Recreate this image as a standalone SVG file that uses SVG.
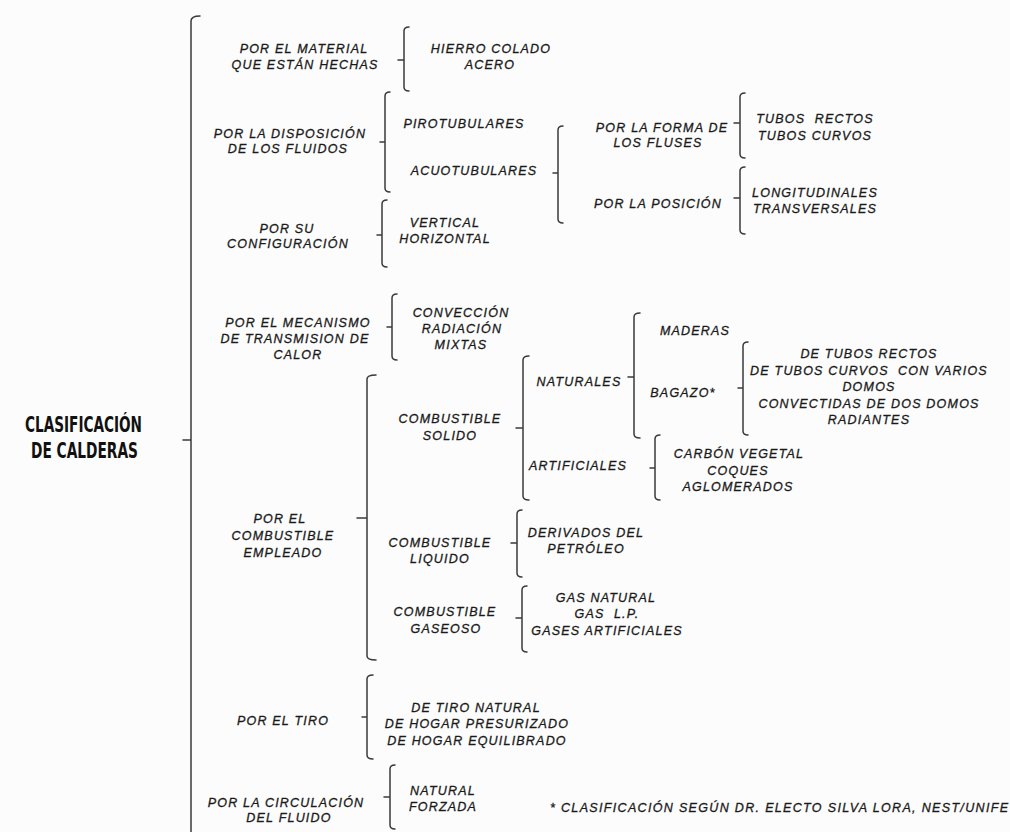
<svg xmlns="http://www.w3.org/2000/svg" width="1010" height="832" viewBox="0 0 1010 832">
<style>
.t{font-family:"Liberation Sans",Arial,sans-serif;font-style:italic;font-size:12.5px;letter-spacing:1.2px;fill:#1a1a1a;stroke:#1a1a1a;stroke-width:0.3px;text-anchor:middle;white-space:pre}
.title{font-family:"Liberation Sans Narrow","DejaVu Sans Condensed","Liberation Sans",sans-serif;font-weight:bold;font-size:21.5px;font-stretch:condensed;fill:#111}
.b{fill:none;stroke:#3a3a3a;stroke-width:1.5;stroke-linecap:round}
</style>
<rect width="1010" height="832" fill="#fcfcfc"/>
<g id="connectors">
<path class="b" d="M200,16 Q191,16 191,21 V840 M191,440 H183"/>
<path class="b" d="M409,27 Q404,27 404,31 V87 Q404,91 409,91 M404,60 H398"/>
<path class="b" d="M390,92 Q385,92 385,96 V188 Q385,192 390,192 M385,142 H380"/>
<path class="b" d="M387,200 Q382,200 382,204 V263 Q382,267 387,267 M382,235 H377"/>
<path class="b" d="M563,126 Q558,126 558,130 V219 Q558,223 563,223 M558,173 H553"/>
<path class="b" d="M745,93 Q740,93 740,97 V154 Q740,158 745,158 M740,123 H734"/>
<path class="b" d="M745,167 Q740,167 740,171 V230 Q740,234 745,234 M740,198 H734"/>
<path class="b" d="M397,294 Q392,294 392,298 V356 Q392,360 397,360 M392,327 H387"/>
<path class="b" d="M376,375 Q367,375 367,379 V656 Q367,660 376,660 M367,518 H357"/>
<path class="b" d="M529,356 Q523,356 523,360 V496 Q523,500 529,500 M523,428 H516"/>
<path class="b" d="M640,313 Q634,313 634,317 V434 Q634,438 640,438 M634,377 H628"/>
<path class="b" d="M748,342 Q743,342 743,346 V431 Q743,435 748,435 M743,388 H738"/>
<path class="b" d="M660,435 Q655,435 655,439 V496 Q655,500 660,500 M655,468 H650"/>
<path class="b" d="M522,510 Q517,510 517,514 V573 Q517,577 522,577 M517,543 H511"/>
<path class="b" d="M527,586 Q522,586 522,590 V648 Q522,652 527,652 M522,618 H516"/>
<path class="b" d="M373,675 Q367,675 367,679 V755 Q367,759 373,759 M367,717 H362"/>
<path class="b" d="M395,765 Q390,765 390,769 V825 Q390,829 395,829 M390,797 H384"/>
</g>
<g id="root">
<text class="title" x="25" y="432" textLength="117" lengthAdjust="spacingAndGlyphs">CLASIFICACIÓN</text>
<text class="title" x="31" y="458" textLength="107" lengthAdjust="spacingAndGlyphs">DE CALDERAS</text>
</g>
<g id="material"><text class="t"><tspan x="304" y="53">POR EL MATERIAL</tspan><tspan x="305" y="69">QUE ESTÁN HECHAS</tspan></text></g>
<g id="material-items"><text class="t"><tspan x="491" y="53">HIERRO COLADO</tspan><tspan x="490" y="69">ACERO</tspan></text></g>
<g id="disposicion"><text class="t"><tspan x="290" y="138">POR LA DISPOSICIÓN</tspan><tspan x="288" y="153">DE LOS FLUIDOS</tspan></text></g>
<g id="pirotubulares"><text class="t" x="464" y="128">PIROTUBULARES</text></g>
<g id="acuotubulares"><text class="t" x="474" y="175">ACUOTUBULARES</text></g>
<g id="configuracion"><text class="t"><tspan x="287" y="233">POR SU</tspan><tspan x="288" y="248">CONFIGURACIÓN</tspan></text></g>
<g id="config-items"><text class="t"><tspan x="445" y="227">VERTICAL</tspan><tspan x="445" y="243">HORIZONTAL</tspan></text></g>
<g id="forma"><text class="t"><tspan x="662" y="132">POR LA FORMA DE</tspan><tspan x="658" y="147">LOS FLUSES</tspan></text></g>
<g id="posicion"><text class="t" x="658" y="208">POR LA POSICIÓN</text></g>
<g id="forma-items"><text class="t"><tspan x="815" y="123">TUBOS  RECTOS</tspan><tspan x="815" y="140">TUBOS CURVOS</tspan></text></g>
<g id="posicion-items"><text class="t"><tspan x="815" y="197">LONGITUDINALES</tspan><tspan x="815" y="213">TRANSVERSALES</tspan></text></g>
<g id="mecanismo"><text class="t"><tspan x="298" y="327">POR EL MECANISMO</tspan><tspan x="295" y="343">DE TRANSMISION DE</tspan><tspan x="298" y="359">CALOR</tspan></text></g>
<g id="mecanismo-items"><text class="t"><tspan x="461" y="317">CONVECCIÓN</tspan><tspan x="462" y="333">RADIACIÓN</tspan><tspan x="461" y="349">MIXTAS</tspan></text></g>
<g id="combustible"><text class="t"><tspan x="280" y="523">POR EL</tspan><tspan x="283" y="540">COMBUSTIBLE</tspan><tspan x="283" y="557">EMPLEADO</tspan></text></g>
<g id="solido"><text class="t"><tspan x="450" y="423">COMBUSTIBLE</tspan><tspan x="450" y="440">SOLIDO</tspan></text></g>
<g id="naturales"><text class="t" x="579" y="386">NATURALES</text></g>
<g id="artificiales"><text class="t" x="578" y="470">ARTIFICIALES</text></g>
<g id="maderas"><text class="t" x="695" y="335">MADERAS</text></g>
<g id="bagazo"><text class="t" x="683" y="397">BAGAZO*</text></g>
<g id="bagazo-items"><text class="t"><tspan x="869" y="358">DE TUBOS RECTOS</tspan><tspan x="869" y="375">DE TUBOS CURVOS  CON VARIOS</tspan><tspan x="869" y="391">DOMOS</tspan><tspan x="869" y="408">CONVECTIDAS DE DOS DOMOS</tspan><tspan x="869" y="424">RADIANTES</tspan></text></g>
<g id="artificiales-items"><text class="t"><tspan x="739" y="458">CARBÓN VEGETAL</tspan><tspan x="738" y="475">COQUES</tspan><tspan x="738" y="491">AGLOMERADOS</tspan></text></g>
<g id="liquido"><text class="t"><tspan x="440" y="547">COMBUSTIBLE</tspan><tspan x="440" y="563">LIQUIDO</tspan></text></g>
<g id="liquido-items"><text class="t"><tspan x="586" y="537">DERIVADOS DEL</tspan><tspan x="586" y="553">PETRÓLEO</tspan></text></g>
<g id="gaseoso"><text class="t"><tspan x="445" y="616">COMBUSTIBLE</tspan><tspan x="446" y="633">GASEOSO</tspan></text></g>
<g id="gaseoso-items"><text class="t"><tspan x="606" y="602">GAS NATURAL</tspan><tspan x="607" y="618">GAS  L.P.</tspan><tspan x="607" y="635">GASES ARTIFICIALES</tspan></text></g>
<g id="tiro"><text class="t" x="283" y="725">POR EL TIRO</text></g>
<g id="tiro-items"><text class="t"><tspan x="476" y="712">DE TIRO NATURAL</tspan><tspan x="477" y="728">DE HOGAR PRESURIZADO</tspan><tspan x="477" y="745">DE HOGAR EQUILIBRADO</tspan></text></g>
<g id="circulacion"><text class="t"><tspan x="286" y="807">POR LA CIRCULACIÓN</tspan><tspan x="289" y="822">DEL FLUIDO</tspan></text></g>
<g id="circulacion-items"><text class="t"><tspan x="443" y="795">NATURAL</tspan><tspan x="443" y="811">FORZADA</tspan></text></g>
<g id="footnote"><text class="t" x="550" y="812" style="text-anchor:start;letter-spacing:0" textLength="458" lengthAdjust="spacing">* CLASIFICACIÓN SEGÚN DR. ELECTO SILVA LORA, NEST/UNIFE</text></g>
</svg>
